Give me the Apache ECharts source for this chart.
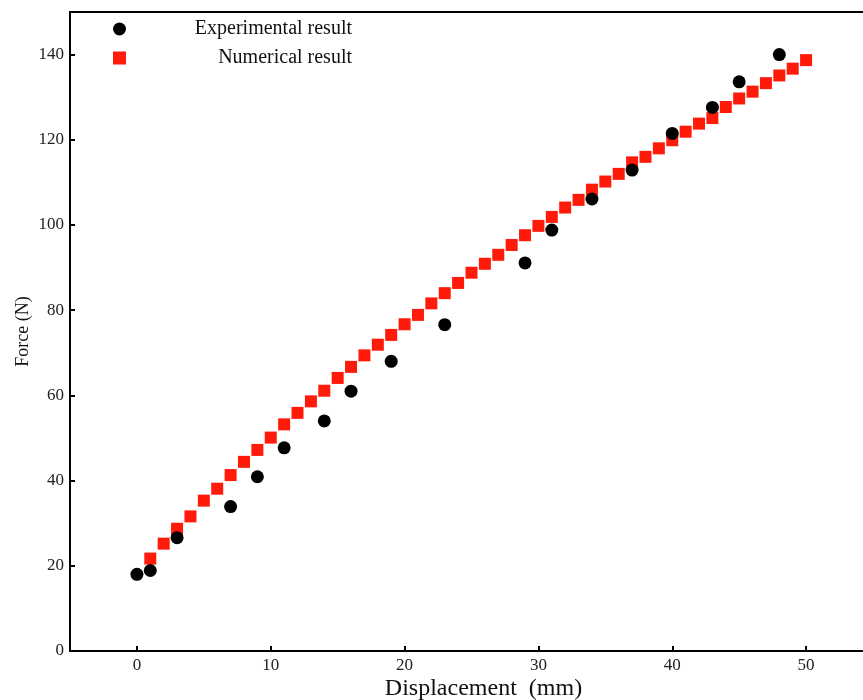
<!DOCTYPE html>
<html>
<head>
<meta charset="utf-8">
<script src="https://cdn.jsdelivr.net/npm/echarts@6/dist/echarts.min.js"></script>
<style>
  html, body { margin: 0; padding: 0; background: #fff; }
  #chart { width: 863px; height: 700px; }
</style>
</head>
<body>
<div id="chart"></div>
<script>
  // experimental points (displacement mm, force N)
  var expX = [0, 1, 3, 7, 9, 11, 14, 16, 19, 23, 29, 31, 34, 37, 40, 43, 45, 48];
  var expY = [18.0, 18.9, 26.6, 33.9, 40.9, 47.7, 54.0, 61.0, 68.0, 76.6, 91.1, 98.8, 106.1, 112.9, 121.5, 127.6, 133.6, 140.0];

  // numerical result, one point per mm from 1 to 50
  var numX = [1, 2, 3, 4, 5, 6, 7, 8, 9, 10, 11, 12, 13, 14, 15, 16, 17, 18, 19, 20, 21, 22, 23, 24, 25,
              26, 27, 28, 29, 30, 31, 32, 33, 34, 35, 36, 37, 38, 39, 40, 41, 42, 43, 44, 45, 46, 47, 48, 49, 50];
  var numY = [21.7, 25.2, 28.7, 31.6, 35.3, 38.1, 41.3, 44.4, 47.2, 50.1, 53.2, 55.9, 58.6, 61.1, 64.1,
              66.7, 69.4, 71.9, 74.2, 76.7, 78.9, 81.6, 84.0, 86.4, 88.8, 90.9, 93.0, 95.3, 97.6, 99.8,
              101.9, 104.1, 105.9, 108.3, 110.2, 112.0, 114.7, 116.0, 118.0, 119.9, 121.9, 123.8, 125.1,
              127.7, 129.7, 131.3, 133.3, 135.1, 136.7, 138.7];

  var xTicks = [0, 10, 20, 30, 40, 50];
  var yTopLabel = 140;

  function pairs(xs, ys) {
    return xs.map(function (x, i) { return [x, ys[i]]; });
  }

  var font = 'Liberation Serif';
  var chart = echarts.init(document.getElementById('chart'));
  chart.setOption({
    backgroundColor: '#fff',
    animation: false,
    grid: {
      left: 70, top: 12, right: -10, bottom: 49,
      outerBoundsMode: 'none',
      show: true, borderColor: '#000', borderWidth: 2
    },
    legend: {
      orient: 'vertical',
      left: 108, top: 14,
      itemWidth: 13, itemHeight: 13,
      itemGap: 9,
      data: [
        { name: 'Experimental result', icon: 'circle' },
        { name: 'Numerical result', icon: 'rect' }
      ],
      formatter: '{a|{name}}',
      textStyle: {
        fontFamily: font,
        fontSize: 20,
        color: '#111',
        rich: { a: { width: 221, align: 'right', fontFamily: font, fontSize: 20, color: '#111' } }
      }
    },
    xAxis: {
      type: 'value',
      min: -5, max: 55, interval: 5,
      name: 'Displacement  (mm)',
      nameLocation: 'middle',
      nameGap: 26,
      nameMoveOverlap: false,
      nameTextStyle: { fontFamily: font, fontSize: 24, color: '#111', padding: [0, 0, 0, 24] },
      splitLine: { show: false },
      axisLine: { onZero: false, lineStyle: { color: '#000', width: 2 } },
      axisTick: {
        show: true, inside: true, length: 5, lineStyle: { color: '#000', width: 2 },
        customValues: xTicks
      },
      axisLabel: {
        fontFamily: font, fontSize: 17, color: '#222', margin: 6,
        customValues: xTicks
      }
    },
    yAxis: {
      type: 'value',
      min: 0, max: 150, interval: 20,
      name: 'Force (N)',
      nameLocation: 'middle',
      nameGap: 38,
      nameMoveOverlap: false,
      nameTextStyle: { fontFamily: font, fontSize: 18, color: '#111' },
      splitLine: { show: false },
      axisLine: { onZero: false, lineStyle: { color: '#000', width: 2 } },
      axisTick: { show: true, inside: true, length: 5, lineStyle: { color: '#000', width: 2 } },
      axisLabel: {
        fontFamily: font, fontSize: 17, color: '#222', margin: 6,
        formatter: function (v) { return v > yTopLabel ? '' : String(v); }
      }
    },
    series: [
      {
        name: 'Numerical result',
        type: 'scatter',
        symbol: 'rect',
        symbolSize: 12,
        itemStyle: { color: '#ff1a0a', opacity: 1 },
        data: pairs(numX, numY),
        z: 2
      },
      {
        name: 'Experimental result',
        type: 'scatter',
        symbol: 'circle',
        symbolSize: 13,
        itemStyle: { color: '#000', opacity: 1 },
        data: pairs(expX, expY),
        z: 3
      }
    ]
  });
</script>
</body>
</html>
